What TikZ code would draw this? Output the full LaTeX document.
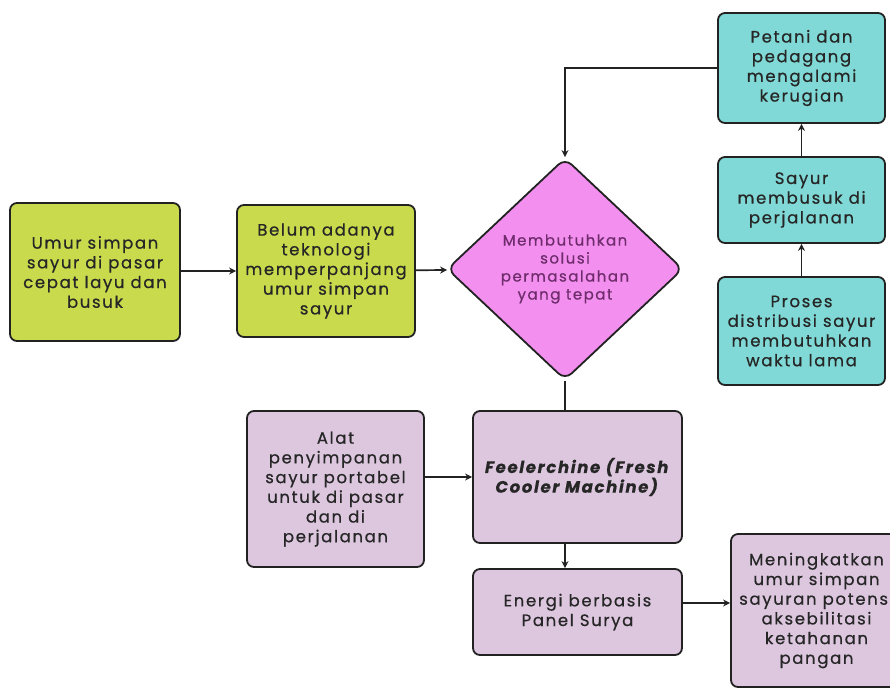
\documentclass[tikz,border=0pt]{standalone}
\usepackage{fontspec}
\setmainfont{Poppins}[LetterSpace=10, FakeBold=0.6]
\usetikzlibrary{positioning,arrows.meta,shapes.geometric}

\definecolor{limebox}{HTML}{C9DB4D}
\definecolor{tealbox}{HTML}{80D9D6}
\definecolor{pinkbox}{HTML}{F38FEF}
\definecolor{lilacbox}{HTML}{DCC7DF}
\definecolor{plumtext}{HTML}{6E2C6C}
\definecolor{inkline}{HTML}{222222}

\begin{document}
\begin{tikzpicture}[
  x=1pt, y=-1pt,
  font=\fontsize{16.5}{19.7}\selectfont,
  box/.style={draw=inkline, rounded corners=7pt, align=center, line width=1.8pt,
              inner sep=2pt, text=black!85},
  cause/.style={box, fill=limebox},
  effect/.style={box, fill=tealbox},
  answer/.style={box, fill=lilacbox},
  decision/.style={diamond, draw=inkline, rounded corners=9pt, fill=pinkbox,
                   line width=1.8pt, align=center, text=plumtext, inner sep=0pt,
                   font=\fontsize{15}{18}\selectfont,
                   minimum width=236pt, minimum height=222pt},
  flow/.style={-{Stealth[length=7pt, width=7pt]}, line width=1.7pt, inkline},
  link/.style={line width=1.7pt, inkline},
]
  \useasboundingbox (0,0) rectangle (890,689);

  % problem chain
  \node[cause, minimum width=170pt, minimum height=138pt]
    (umur) at (95,272) {Umur simpan\\ sayur di pasar\\ cepat layu dan\\ busuk};
  \node[cause, minimum width=178pt, minimum height=132pt]
    (belum) at (326,271) {Belum adanya\\ teknologi\\ memperpanjang\\ umur simpan\\ sayur};
  \node[decision] (solusi) at (565,269)
    {Membutuhkan\\ solusi\\ permasalahan\\ yang tepat};

  % distribution side
  \node[effect, minimum width=167pt, minimum height=110pt]
    (petani) at (801.5,68) {Petani dan\\ pedagang\\ mengalami\\ kerugian};
  \node[effect, minimum width=167pt, minimum height=86pt]
    (busuk) at (801.5,200) {Sayur\\ membusuk di\\ perjalanan};
  \node[effect, minimum width=167pt, minimum height=108pt]
    (proses) at (801.5,331) {Proses\\ distribusi sayur\\ membutuhkan\\ waktu lama};

  % solution
  \node[answer, minimum width=177pt, minimum height=156pt]
    (alat) at (335.5,489) {Alat\\ penyimpanan\\ sayur portabel\\ untuk di pasar\\ dan di\\ perjalanan};
  \node[answer, minimum width=209pt, minimum height=132pt]
    (mesin) at (577.5,477) {\textbf{\textit{Feelerchine (Fresh}}\\ \textbf{\textit{Cooler Machine)}}};
  \node[answer, minimum width=209pt, minimum height=86pt]
    (energi) at (577.5,612) {Energi berbasis\\ Panel Surya};
  \node[answer, minimum width=171pt, minimum height=153pt]
    (hasil) at (816.5,610.5) {Meningkatkan\\ umur simpan\\ sayuran potensi\\ aksebilitasi\\ ketahanan\\ pangan};

  \draw[flow] (umur.east |- belum) -- (belum);
  \draw[flow] (belum) -- (solusi);
  \draw[flow] (proses) -- (busuk);
  \draw[flow] (busuk) -- (petani);
  \draw[flow] (petani.west) -| (solusi.north);
  \draw[link] (solusi.south) -- (solusi.south |- mesin.north);
  \draw[flow] (alat.east |- mesin) -- (mesin);
  \draw[flow] (solusi.south |- mesin.south) -- (solusi.south |- energi.north);
  \draw[flow] ([yshift=9pt]energi.east) -- ([yshift=9pt]energi.east -| hasil.west);
\end{tikzpicture}
\end{document}
